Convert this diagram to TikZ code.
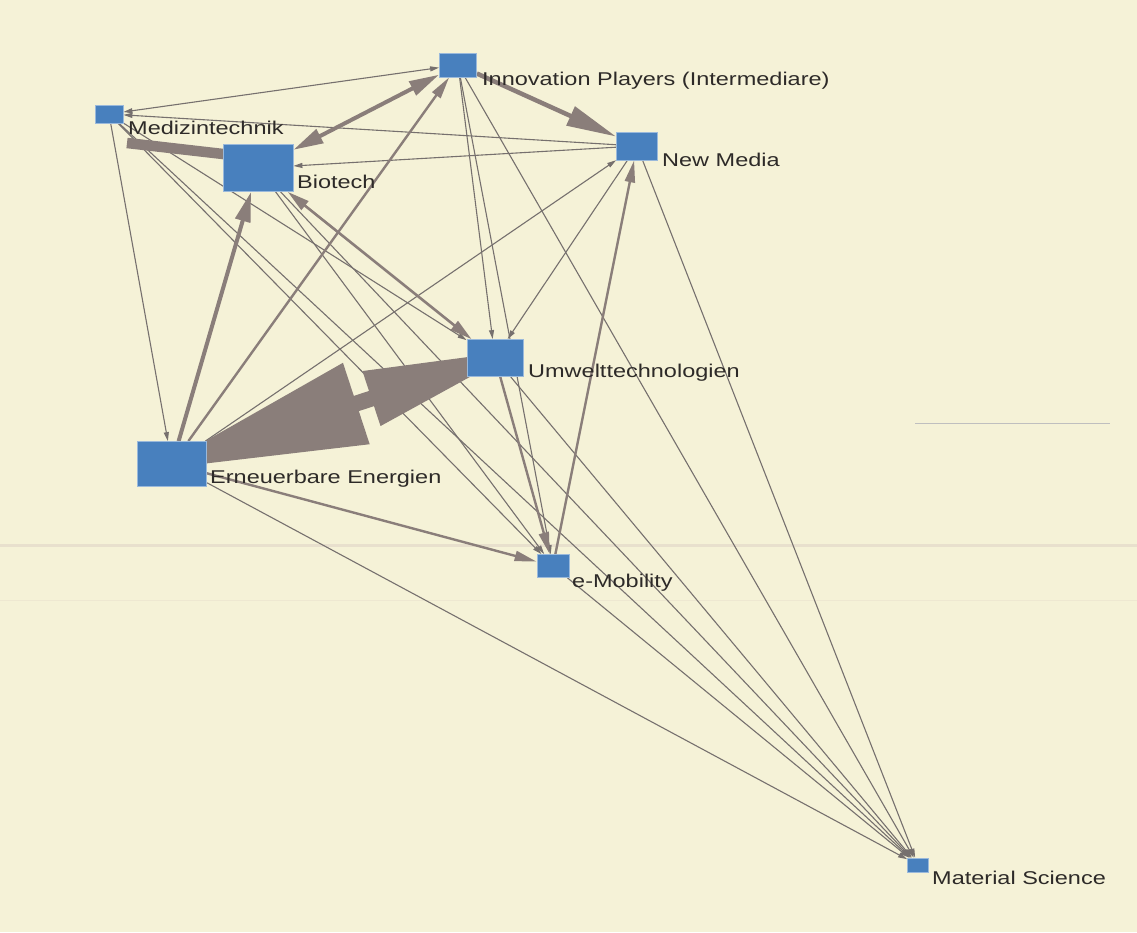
\documentclass[tikz,border=0pt]{standalone}
\usepackage{fontspec}
\newfontfamily\labfont[FakeStretch=1.27]{Liberation Sans}
\usetikzlibrary{arrows.meta}
\definecolor{paper}{RGB}{245,242,215}
\definecolor{paperline}{RGB}{232,224,205}
\definecolor{nodeblue}{RGB}{72,128,190}
\definecolor{thincol}{RGB}{118,112,110}
\definecolor{thickcol}{RGB}{138,126,122}
\definecolor{labcol}{RGB}{45,42,40}
\pgfdeclarelayer{paperlayer}
\pgfdeclarelayer{edges}
\pgfsetlayers{paperlayer,edges,main}

\begin{document}
\begin{tikzpicture}[x=1pt,y=-1pt,
  box/.style={rectangle, fill=nodeblue, draw=nodeblue!55!white, line width=0.8pt, inner sep=0pt},
  lab/.style={anchor=base west, inner sep=0pt, text=labcol, font=\labfont\fontsize{18.5}{20}\selectfont},
  wedge/.style={draw=thincol, line width=1.1pt, -{Triangle[length=9pt,width=5pt]}},
  wedgeboth/.style={draw=thincol, line width=1.1pt, {Triangle[length=9pt,width=5pt]}-{Triangle[length=9pt,width=5pt]}},
  medge/.style={draw=thickcol, line width=2.4pt, -{Triangle[length=22pt,width=10pt]}},
  medgeboth/.style={draw=thickcol, line width=2.6pt, {Triangle[length=22pt,width=11pt]}-{Triangle[length=22pt,width=11pt]}},
  sedge/.style={draw=thickcol, line width=4pt, -{Triangle[length=30pt,width=15pt]}},
  sedgeboth/.style={draw=thickcol, line width=4pt, {Triangle[length=30pt,width=15pt]}-{Triangle[length=30pt,width=15pt]}}
]
\useasboundingbox (0,0) rectangle (1137,932);

% sector nodes
\node[box, minimum width=37pt, minimum height=24pt] (ip) at (458,65) {};
\node[box, minimum width=28pt, minimum height=18pt] (mt) at (109,114) {};
\node[box, minimum width=70pt, minimum height=47pt] (bt) at (258,168) {};
\node[box, minimum width=41pt, minimum height=28pt] (nm) at (637,146) {};
\node[box, minimum width=56pt, minimum height=37pt] (ut) at (495,358) {};
\node[box, minimum width=69pt, minimum height=45pt] (ee) at (172,464) {};
\node[box, minimum width=32pt, minimum height=23pt] (em) at (553,566) {};
\node[box, minimum width=21pt, minimum height=14pt] (ms) at (918,865) {};

% labels
\node[lab] (ipl) at (482,85) {Innovation Players (Intermediare)};
\node[lab] (mtl) at (128,134) {Medizintechnik};
\node[lab] (btl) at (297,188) {Biotech};
\node[lab] (nml) at (662,166) {New Media};
\node[lab] (utl) at (528,377) {Umwelttechnologien};
\node[lab] (eel) at (210,483) {Erneuerbare Energien};
\node[lab] (eml) at (572,587) {e-Mobility};
\node[lab] (msl) at (932,884) {Material Science};

\begin{pgfonlayer}{paperlayer}
  \fill[paper] (0,0) rectangle (1137,932);
  \fill[paperline] (0,544) rectangle (1137,547);
  \fill[paperline, opacity=0.5] (0,599.5) rectangle (1137,601);
  \draw[black!25, line width=0.8pt] (915,423) -- (1110,423);
\end{pgfonlayer}

\begin{pgfonlayer}{edges}
  % weak ties
  \draw[wedgeboth] (mt) -- (ip);
  \draw[wedge] (nm) -- (mt);
  \draw[wedge] (mt) -- (ut);
  \draw[wedge] (mt) -- (ee);
  \draw[wedge] (mt) -- (em);
  \draw[wedge] (mt) -- (ms);
  \draw[wedge] (nm) -- (bt);
  \draw[wedge] (bt) -- (em);
  \draw[wedge] (bt) -- (ms);
  \draw[wedge] (ip) -- (ut);
  \draw[wedge] (ip) -- (em);
  \draw[wedge] (ip) -- (ms);
  \draw[wedge] (nm) -- (ut);
  \draw[wedge] (ee) -- (nm);
  \draw[wedge] (nm) -- (ms);
  \draw[wedge] (ut) -- (ms);
  \draw[wedge] (ee) -- (ms);
  \draw[wedge] (em) -- (ms);
  % medium ties
  \draw[medge] (ee) -- (ip);
  \draw[medgeboth] (bt) -- (ut);
  \draw[medge] (em) -- (nm);
  \draw[medge] (ut) -- (em);
  \draw[medge] (ee) -- (em);
  % strong ties
  \draw[sedgeboth] (bt) -- (ip);
  \draw[sedge] (ee) -- (bt);
  \draw[draw=thickcol, line width=4.5pt, -{Triangle[length=50pt,width=20pt]}] (ip) -- (nm);
  \draw[draw=thickcol, line width=10.5pt, -{Triangle[length=30pt,width=14pt]}]
    ([shift={(18,29)}]mt.center) -- ([shift={(0,-10)}]bt.center);
  % strongest tie, both directions
  \draw[draw=thickcol, line width=16pt, shorten <=-20pt, shorten >=-30pt,
        {Triangle[length=214pt,width=81pt]}-{Triangle[length=160pt,width=53pt]}]
    (ee.center) -- (ut.center);
\end{pgfonlayer}
\end{tikzpicture}
\end{document}
